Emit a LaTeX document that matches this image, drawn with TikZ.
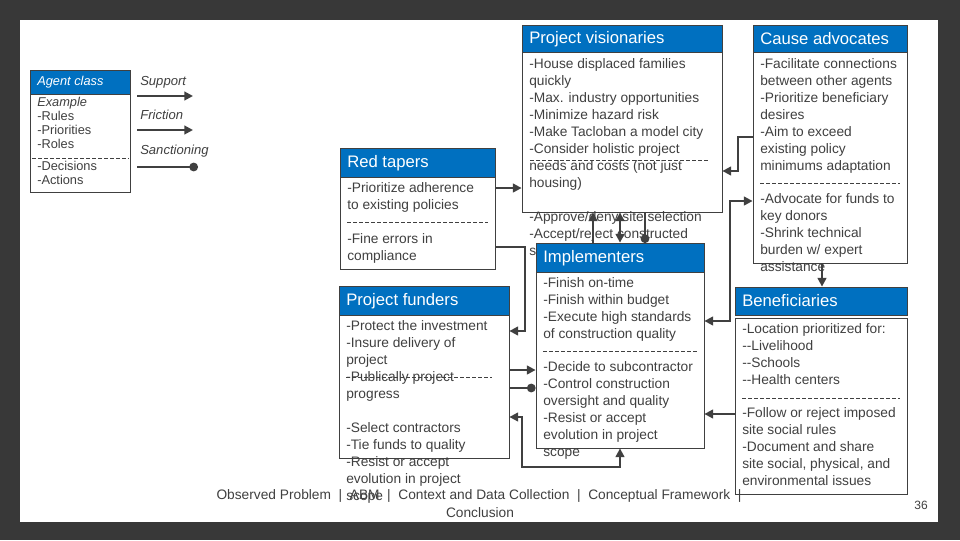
\documentclass[tikz,border=0pt]{standalone}
\usepackage{fontspec}
\setmainfont{Liberation Sans}
\usetikzlibrary{fit,arrows.meta}
\definecolor{hdr}{HTML}{0070C0}
\definecolor{txt}{HTML}{404040}
\definecolor{ln}{HTML}{404040}
\begin{document}
\begin{tikzpicture}[x=0.75pt,y=-0.75pt,
 box/.style={draw=ln,line width=0.6pt,fill=white,inner sep=0pt},
 hbox/.style={draw=ln,line width=0.6pt,fill=hdr,inner sep=0pt},
 htext/.style={anchor=west,text=white,font=\fontsize{12.5}{14}\selectfont,inner sep=0pt},
 btext/.style={anchor=north west,align=left,text=txt,font=\fontsize{10.3}{12.75}\selectfont,inner sep=0pt},
 ltext/.style={anchor=north west,align=left,text=txt,font=\fontsize{9.6}{10.5}\selectfont,inner sep=0pt},
 dline/.style={draw=ln,dashed,dash pattern=on 3pt off 1.5pt,line width=0.5pt},
 conn/.style={draw=ln,line width=1.5pt},
 arr/.style={-{Triangle[length=6.5pt,width=6.5pt]}},
 darr/.style={{Triangle[length=6.5pt,width=6.5pt]}-{Triangle[length=6.5pt,width=6.5pt]}},
 dot/.style={-{Circle[length=6.5pt]}}]
\fill[black!78] (0,0) rectangle (960,540);
\fill[white] (20,20) rectangle (938,522);
\useasboundingbox (0,0) rectangle (960,540);

% legend
\node[hbox,fit={(30,70)(130,94)}] (ach) {};
\node[htext,font=\itshape\fontsize{9.6}{11}\selectfont] at (37,82) {Agent class};
\node[box,fit={(30,94)(130,192)}] (acb) {};
\node[ltext] (act) at (37,97) {\textit{Example}\\-Rules\\-Priorities\\-Roles};
\draw[dline] (32,158) -- (129,158);
\node[ltext] at (37,161) {-Decisions\\-Actions};
\node[btext,font=\itshape\fontsize{9.8}{12}\selectfont] (ls) at (140,76) {Support};
\node[btext,font=\itshape\fontsize{9.8}{12}\selectfont] (lf) at (140,110) {Friction};
\node[btext,font=\itshape\fontsize{9.8}{12}\selectfont] (lsa) at (140,145) {Sanctioning};
\coordinate (s1) at (137,96); \coordinate (s2) at (193,96);
\coordinate (f1) at (137,130); \coordinate (f2) at (193,130);
\coordinate (d1) at (137,167); \coordinate (d2) at (198,167);
\draw[conn,arr] (s1) -- (s2);
\draw[conn,arr] (f1) -- (f2);
\draw[conn,dot] (d1) -- (d2);

% Project visionaries
\node[hbox,fit={(522,25)(722,52)}] (pvh) {};
\node[htext] at (529,39) {Project visionaries};
\node[box,fit={(522,52)(722,212)}] (pvb) {};
\node[btext] at (529,58) {-House displaced families\\quickly\\-Max. industry opportunities\\-Minimize hazard risk\\-Make Tacloban a model city\\-Consider holistic project\\needs and costs (not just\\housing)\\\\-Approve/deny site selection\\-Accept/reject constructed\\s};
\draw[dline] (530,160) -- (710,160);

% Cause advocates
\node[hbox,fit={(753,25)(907,52)}] (cah) {};
\node[htext] at (760,39) {Cause advocates};
\node[box,fit={(753,52)(907,263)}] (cab) {};
\node[btext] at (760,58) {-Facilitate connections\\between other agents\\-Prioritize beneficiary\\desires\\-Aim to exceed\\existing policy\\minimums adaptation};
\draw[dline] (760,183) -- (900,183);
\node[btext] at (760,193) {-Advocate for funds to\\key donors\\-Shrink technical\\burden w/ expert\\assistance};

% Red tapers
\node[hbox,fit={(340,148)(495,177)}] (rth) {};
\node[htext] at (347,163) {Red tapers};
\node[box,fit={(340,177)(495,269)}] (rtb) {};
\node[btext] at (347,182) {-Prioritize adherence\\to existing policies};
\draw[dline] (347,222) -- (488,222);
\node[btext] at (347,233) {-Fine errors in\\compliance};

% Implementers
\node[hbox,fit={(536,243)(704,272)}] (imh) {};
\node[htext] at (543,258) {Implementers};
\node[box,fit={(536,272)(704,448)}] (imb) {};
\node[btext] at (543,277) {-Finish on-time\\-Finish within budget\\-Execute high standards\\of construction quality};
\draw[dline] (543,351) -- (697,351);
\node[btext] at (543,361) {-Decide to subcontractor\\-Control construction\\oversight and quality\\-Resist or accept\\evolution in project\\scope};

% Project funders
\node[hbox,fit={(339,286)(509,315)}] (pfh) {};
\node[htext] at (346,301) {Project funders};
\node[box,fit={(339,315)(509,458)}] (pfb) {};
\node[btext] at (346,320) {-Protect the investment\\-Insure delivery of\\project\\-Publically project\\progress\\\\-Select contractors\\-Tie funds to quality\\-Resist or accept\\evolution in project\\scope};
\draw[dline] (346,377) -- (492,377);

% Beneficiaries
\node[hbox,fit={(735,287)(907,315)}] (beh) {};
\node[htext] at (742,301) {Beneficiaries};
\node[box,fit={(735,318)(907,494)}] (beb) {};
\node[btext] at (742,323) {-Location prioritized for:\\-{}-Livelihood\\-{}-Schools\\-{}-Health centers};
\draw[dline] (742,398) -- (900,398);
\node[btext] at (742,407) {-Follow or reject imposed\\site social rules\\-Document and share\\site social, physical, and\\environmental issues};

% connectors
\draw[conn,arr] (rtb.east |- 0,188) -- (pvb.west |- 0,188);
\draw[conn,arr] (rtb.east |- 0,247) -- (525,247) -- (525,331) -- (pfb.east |- 0,331);
\draw[conn,arr] (imh.north -| 593,0) -- (pvb.south -| 593,0);
\draw[conn,darr] (pvb.south -| 620,0) -- (imh.north -| 620,0);
\draw[conn,dot] (pvb.south -| 645,0) -- (645,243);
\draw[conn,arr] (cab.west |- 0,137) -- (738,137) -- (738,171) -- (pvb.east |- 0,171);
\draw[conn,darr] (cab.west |- 0,201) -- (730,201) -- (730,321) -- (imb.east |- 0,321);
\draw[conn,arr] (cab.south -| 822,0) -- (beh.north -| 822,0);
\draw[conn,arr] (beb.west |- 0,414) -- (imb.east |- 0,414);
\draw[conn,arr] (pfb.east |- 0,370) -- (imb.west |- 0,370);
\draw[conn,dot] (pfb.east |- 0,388) -- (imb.west |- 0,388);
\draw[conn,darr] (pfb.east |- 0,417) -- (522,417) -- (522,467) -- (620,467) -- (imb.south -| 620,0);

% footer
\node[text=txt,font=\fontsize{10.3}{12}\selectfont,inner sep=0pt] (ft1) at (479,496) {Observed Problem \ |\ \ ABM \ |\ \ Context and Data Collection \ |\ \ Conceptual Framework \ |};
\node[text=txt,font=\fontsize{10.3}{12}\selectfont,inner sep=0pt] (ft2) at (480,513) {Conclusion};
\node[text=txt,font=\fontsize{9}{11}\selectfont,inner sep=0pt] (pg) at (921,505) {36};
\end{tikzpicture}
\end{document}
